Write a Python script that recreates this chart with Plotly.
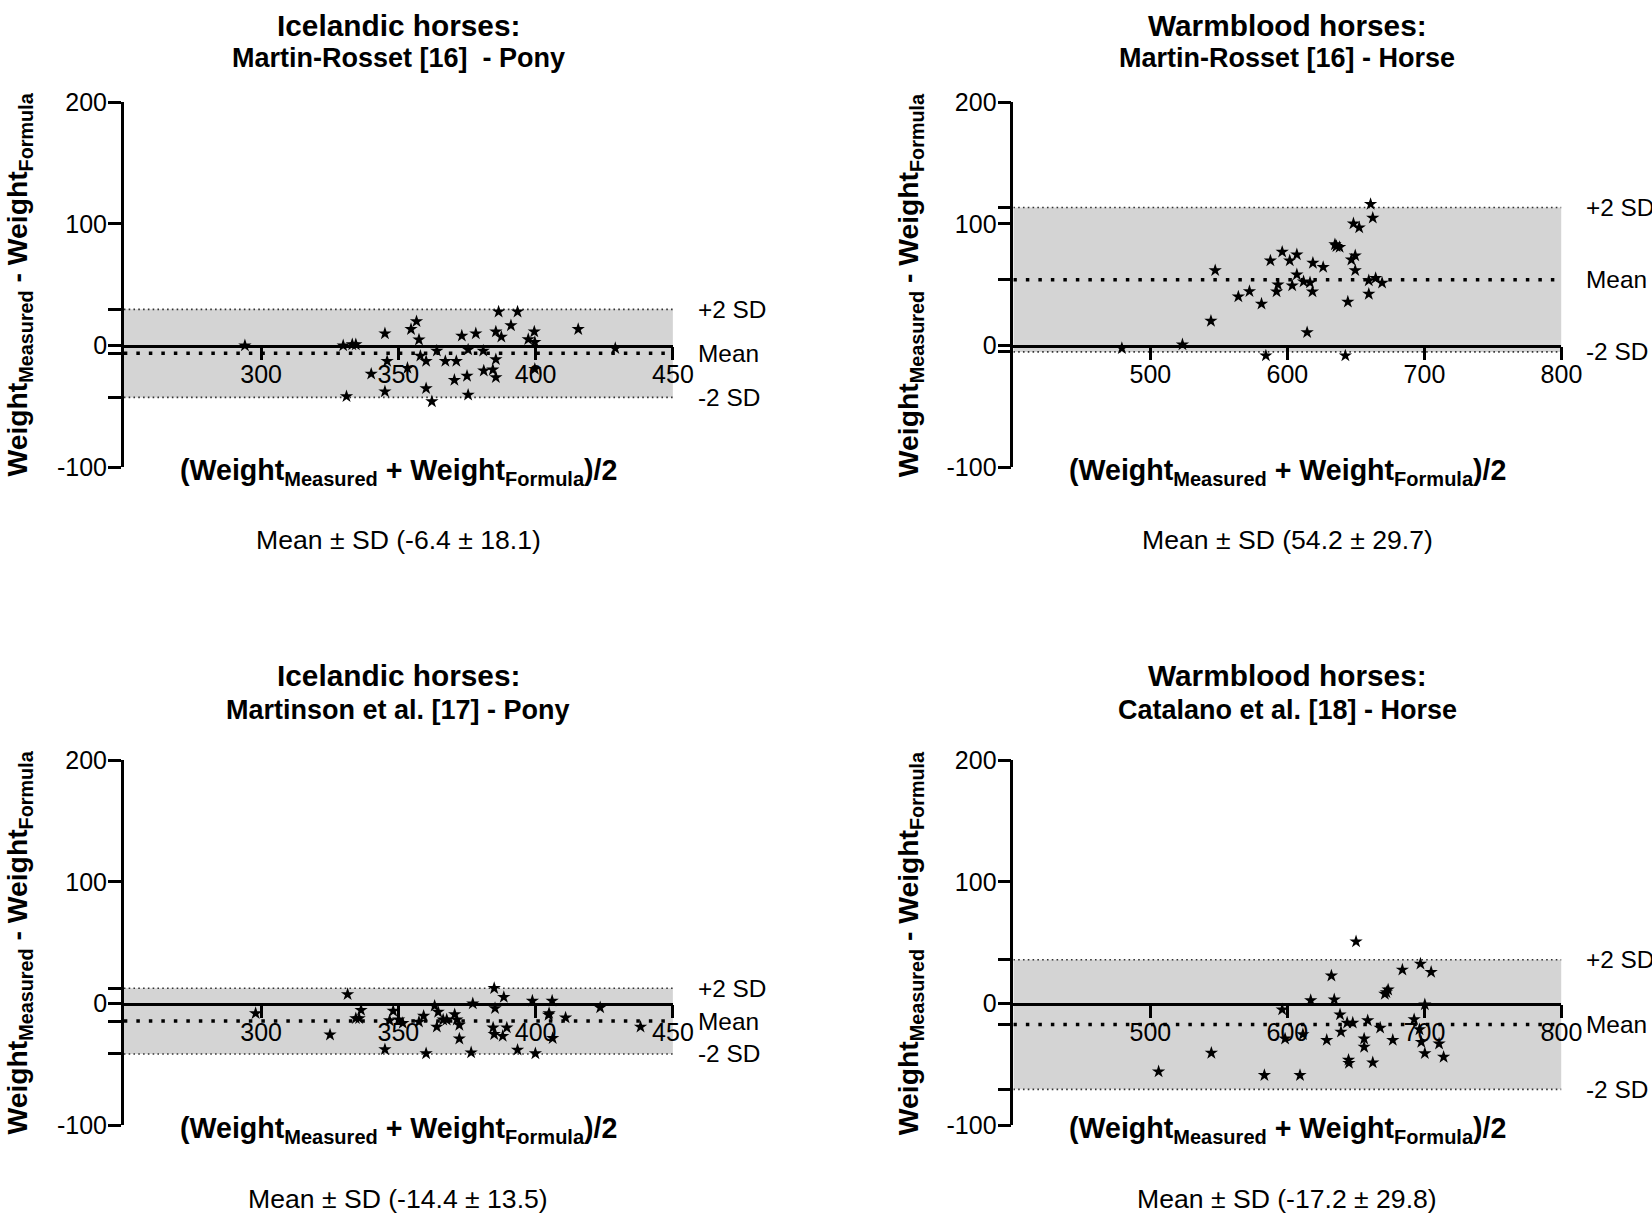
import plotly.graph_objects as go

W, H = 1690, 1245
FONT = "Liberation Sans, Arial, sans-serif"

# ---------------- data ----------------
titles_line1 = ["Icelandic horses:", "Warmblood horses:", "Icelandic horses:", "Warmblood horses:"]
titles_line2 = ["Martin-Rosset [16]\u00a0 - Pony", "Martin-Rosset [16] - Horse",
                "Martinson et al. [17] - Pony", "Catalano et al. [18] - Horse"]
summary_text = ["Mean \u00b1 SD (-6.4 \u00b1 18.1)", "Mean \u00b1 SD (54.2 \u00b1 29.7)",
                "Mean \u00b1 SD (-14.4 \u00b1 13.5)", "Mean \u00b1 SD (-17.2 \u00b1 29.8)"]

mean_vals = [-6.4, 54.2, -14.4, -17.2]
upper_vals = [29.8, 113.6, 12.6, 36.0]
lower_vals = [-42.6, -5.2, -41.4, -70.5]

x_ranges = [[250, 450], [400, 800], [250, 450], [400, 800]]
x_tickvals = [[300, 350, 400, 450], [500, 600, 700, 800], [300, 350, 400, 450], [500, 600, 700, 800]]
y_tickvals = [-100, 0, 100, 200]
y_ticklabels = ["-100", "0", "100", "200"]

p1_x = [294.1, 329.9, 333.2, 334.5, 345.1, 345.9, 340.1, 353.3, 331.1, 345.1, 354.6, 356.6, 357.5,
        358.0, 360.1, 364.0, 367.1, 371.1, 360.1, 362.2, 373.1, 375.4, 378.2, 380.9, 370.4, 375.0,
        375.4, 381.1, 384.4, 385.5, 385.5, 385.5, 387.5, 386.5, 391.0, 393.4, 397.3, 399.5, 399.7,
        399.7, 415.5, 429.0]
p1_y = [0.0, 0.0, 0.9, 0.9, 9.9, -12.8, -23.3, -18.5, -41.8, -37.8, 13.4, 19.9, 4.8,
        -8.5, -12.8, -4.3, -12.8, -12.8, -35.2, -46.0, 8.0, -3.4, 9.9, -4.3, -28.4, -25.0,
        -40.6, -20.7, -19.9, -11.4, -26.1, 11.4, 7.1, 27.8, 16.5, 27.8, 5.1, 11.4, 2.8,
        -19.3, 13.4, -2.3]

p2_x = [479.2, 523.4, 544.2, 547.3, 564.2, 572.3, 581.1, 584.3, 587.6, 592.1, 593.1, 596.2, 601.7,
        603.5, 606.9, 606.9, 611.8, 616.5, 618.3, 614.4, 618.6, 626.1, 634.7, 635.8, 638.1, 644.1,
        642.3, 646.7, 649.5, 649.5, 648.2, 652.4, 659.4, 659.4, 660.7, 662.3, 664.4, 669.1]
p2_y = [-2.2, 0.8, 20.2, 61.8, 40.2, 44.6, 34.3, -8.3, 69.8, 44.3, 50.1, 77.0, 69.8,
        49.3, 74.8, 58.4, 52.6, 51.8, 44.3, 10.8, 67.9, 64.5, 83.1, 81.7, 80.9, 36.0,
        -8.3, 70.6, 74.0, 61.8, 100.3, 97.0, 53.5, 42.4, 116.3, 105.0, 55.4, 51.5]

p3_x = [298.0, 325.1, 331.5, 334.5, 335.7, 336.4, 345.1, 346.8, 348.1, 350.1, 351.6, 357.5, 359.2,
        360.1, 363.2, 364.5, 364.0, 366.3, 367.6, 370.5, 371.3, 372.2, 372.2, 376.5, 377.1, 384.5,
        384.9, 385.2, 384.9, 388.0, 388.4, 389.5, 393.4, 398.8, 399.9, 404.7, 404.9, 406.0, 406.2,
        410.9, 423.5, 438.2]
p3_y = [-8.0, -25.6, 7.6, -12.2, -12.2, -5.3, -37.7, -13.9, -6.1, -13.3, -16.1, -15.0, -10.2,
        -41.0, -1.9, -6.9, -19.2, -13.3, -13.3, -8.9, -13.3, -17.6, -28.9, -40.3, 0.0, -19.8,
        12.6, -3.9, -25.2, -26.7, 5.3, -19.8, -38.1, 2.3, -41.0, -9.4, -8.0, 2.3, -28.5,
        -11.6, -3.3, -19.2]

p4_x = [506.0, 544.5, 583.2, 596.2, 598.3, 609.2, 611.3, 617.0, 628.7, 632.1, 634.2, 638.4, 639.1,
        643.6, 647.7, 644.6, 644.9, 650.1, 656.0, 656.0, 658.6, 662.3, 667.7, 671.1, 672.2, 673.5,
        676.9, 683.9, 692.5, 697.1, 696.4, 697.7, 700.3, 700.3, 704.9, 710.7, 714.0]
p4_y = [-55.9, -40.6, -58.9, -4.9, -28.9, -58.9, -25.3, 2.7, -30.0, 22.9, 3.3, -9.0, -23.2,
        -15.8, -15.8, -46.3, -49.0, 51.0, -28.9, -35.7, -13.9, -48.5, -19.9, 7.9, 9.3, 11.4,
        -30.0, 27.8, -13.1, 32.7, -21.3, -31.6, -0.8, -40.9, 25.9, -33.0, -43.9]

points_x = [p1_x, p2_x, p3_x, p4_x]
points_y = [p1_y, p2_y, p3_y, p4_y]

# ---------------- layout geometry (figure pixels) ----------------
x_dom_px = [(125.4, 681.4), (1026.1, 1581.1), (125.4, 681.4), (1026.1, 1581.1)]
y_dom_px = [(90.4, 463.6), (90.4, 463.6), (763.5, 1136.8), (763.5, 1136.8)]
title1_py = [11.8, 11.8, 677.2, 677.2]
title2_py = [45.5, 45.5, 711.7, 711.7]
ytitle_px = [19.0, 920.8, 19.0, 920.8]


def fx(px):
    return px / W


def fy(py):
    return 1 - py / H


fig = go.Figure()
annotations = []
shapes = []

for i in range(4):
    n = "" if i == 0 else str(i + 1)
    xa, ya = "x" + n, "y" + n
    x0, x1 = x_ranges[i]

    shapes.append(dict(type="rect", xref=xa, yref=ya, x0=x0, x1=x1,
                       y0=lower_vals[i], y1=upper_vals[i],
                       fillcolor="#d4d4d4", line=dict(width=0), layer="below"))

    for val in (upper_vals[i], lower_vals[i]):
        fig.add_trace(go.Scatter(x=[x0, x1], y=[val, val], mode="lines", xaxis=xa, yaxis=ya,
                                 line=dict(color="#333333", width=1.6, dash="1.6px,3.2px"),
                                 hoverinfo="skip", showlegend=False))
    fig.add_trace(go.Scatter(x=[x0, x1], y=[mean_vals[i], mean_vals[i]], mode="lines",
                             xaxis=xa, yaxis=ya,
                             line=dict(color="black", width=3.5, dash="3.5px,9px"),
                             hoverinfo="skip", showlegend=False))
    fig.add_trace(go.Scatter(x=points_x[i], y=points_y[i], mode="markers", xaxis=xa, yaxis=ya,
                             marker=dict(symbol="star", size=10, color="black", line=dict(width=0)),
                             showlegend=False))

    xd = [fx(x_dom_px[i][0]), fx(x_dom_px[i][1])]
    yd = [fy(y_dom_px[i][1]), fy(y_dom_px[i][0])]
    xpos = yd[0] + (yd[1] - yd[0]) / 3.0

    yt_vals = y_tickvals + [mean_vals[i], upper_vals[i], lower_vals[i]]
    yt_text = y_ticklabels + ["", "", ""]

    fig.layout["xaxis" + n] = dict(domain=xd, range=x_ranges[i], anchor="free", position=xpos,
                                   showline=True, linecolor="black", linewidth=2.6,
                                   ticks="outside", ticklen=13, tickwidth=2.6, tickcolor="black",
                                   tickvals=x_tickvals[i], showgrid=False, zeroline=False,
                                   ticklabelstandoff=-7,
                                   tickfont=dict(size=25, color="black", family=FONT))
    fig.layout["yaxis" + n] = dict(domain=yd, range=[-100, 200], anchor=xa,
                                   showline=True, linecolor="black", linewidth=2.6,
                                   ticks="outside", ticklen=13, tickwidth=2.6, tickcolor="black",
                                   tickvals=yt_vals, ticktext=yt_text, showgrid=False,
                                   zeroline=False, ticklabelstandoff=-4,
                                   tickfont=dict(size=25, color="black", family=FONT))

    cx = (x_dom_px[i][0] + x_dom_px[i][1]) / 2
    bottom = y_dom_px[i][1]
    annotations.append(dict(xref="paper", yref="paper", x=fx(cx), y=fy(title1_py[i]),
                            text="<b>" + titles_line1[i] + "</b>", showarrow=False,
                            xanchor="center", yanchor="middle", borderpad=0,
                            font=dict(size=29.8, color="black", family=FONT)))
    annotations.append(dict(xref="paper", yref="paper", x=fx(cx), y=fy(title2_py[i]),
                            text="<b>" + titles_line2[i] + "</b>", showarrow=False,
                            xanchor="center", yanchor="middle", borderpad=0,
                            font=dict(size=27, color="black", family=FONT)))
    annotations.append(dict(xref="paper", yref="paper", x=fx(cx), y=fy(bottom + 5),
                            text="<b>(Weight<sub>Measured</sub> + Weight<sub>Formula</sub>)/2</b>",
                            showarrow=False, xanchor="center", yanchor="middle",
                            font=dict(size=28.6, color="black", family=FONT)))
    annotations.append(dict(xref="paper", yref="paper", x=fx(cx), y=fy(bottom + 75),
                            text=summary_text[i], showarrow=False,
                            xanchor="center", yanchor="middle",
                            font=dict(size=26.6, color="black", family=FONT)))
    annotations.append(dict(xref="paper", yref="paper", x=fx(ytitle_px[i]),
                            y=fy((y_dom_px[i][0] + y_dom_px[i][1]) / 2),
                            text="<b>Weight<sub>Measured</sub> - Weight<sub>Formula</sub></b>",
                            textangle=-90, showarrow=False, xanchor="center", yanchor="middle",
                            font=dict(size=28.3, color="black", family=FONT)))
    for lab, val in (("+2 SD", upper_vals[i]), ("Mean", mean_vals[i]), ("-2 SD", lower_vals[i])):
        annotations.append(dict(xref=xa + " domain", yref=ya, x=1, y=val, text=lab,
                                showarrow=False, xanchor="left", yanchor="middle", xshift=23,
                                font=dict(size=24.4, color="black", family=FONT)))

fig.update_layout(width=W, height=H, margin=dict(l=0, r=0, t=0, b=0),
                  paper_bgcolor="white", plot_bgcolor="white",
                  annotations=annotations, shapes=shapes, showlegend=False,
                  font=dict(family=FONT, color="black"))

# pin the plot to the page's top-left corner (no default body margin)
pin_js = ("document.body.style.margin='0';"
          "var gd=document.getElementById('{plot_id}');"
          "gd.style.position='absolute';gd.style.left='0px';gd.style.top='0px';")

fig.write_html("out.html", post_script=pin_js, config={"displayModeBar": False})
